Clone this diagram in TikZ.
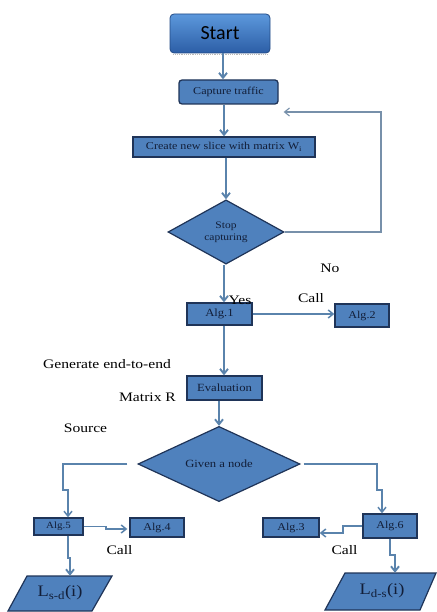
\documentclass[tikz,border=0pt]{standalone}
\usepackage{fontspec}
\setmainfont{Liberation Serif}
\newfontfamily\bx[FakeStretch=1.15]{Liberation Serif}
\newfontfamily\lb[FakeStretch=1.2]{Liberation Serif}
\newfontfamily\stf{Carlito}
\usetikzlibrary{shapes.geometric,arrows.meta,calc}
\definecolor{boxfill}{HTML}{4F81BD}
\definecolor{boxline}{HTML}{1F3458}
\definecolor{boxtext}{HTML}{121E38}
\definecolor{linec}{HTML}{5A83AC}
\definecolor{loopc}{HTML}{7790AA}
\definecolor{sttop}{HTML}{5C98DC}
\definecolor{stbot}{HTML}{2C5EA6}
\begin{document}
\begin{tikzpicture}[x=1pt,y=-1pt,
  box/.style={draw=boxline, fill=boxfill, line width=1.3pt, inner sep=0pt,
     text=boxtext, font=\bx\fontsize{10.5}{11}\selectfont},
  dia/.style={diamond, draw=boxline, fill=boxfill, line width=1.2pt, inner sep=0pt,
     text=boxtext, align=center},
  lab/.style={font=\lb\fontsize{13}{14}\selectfont, text=black, inner sep=0pt},
  arr/.style={draw=linec, line width=1.9pt, -{Straight Barb[length=5pt,width=8pt]}},
  arrthin/.style={draw=loopc, line width=1.1pt, -{Straight Barb[length=5pt,width=8pt]}},
  lbox/.style={inner sep=0pt, minimum width=1pt, text=boxtext}
]
\useasboundingbox (0,0) rectangle (436,612);

% nodes
\node[draw=stbot!80!black, line width=0.8pt, rounded corners=4pt, top color=sttop, bottom color=stbot,
      minimum width=100pt, minimum height=39pt, inner sep=0pt,
      font=\stf\fontsize{20}{22}\selectfont, text=black] (start) at (220,33.5) {Start};
\draw[gray!55, densely dotted, line width=1.2pt] (start.south west) ++(3,1.5) -- ([xshift=-3pt,yshift=-1.5pt]start.south east);

\node[box, rounded corners=3pt, minimum width=99pt, minimum height=24pt] (capture) at (228.5,92) {Capture traffic};
\node[box, minimum width=182pt, minimum height=20pt] (create) at (224,147) {Create new slice with matrix W\textsubscript{i}};
\node[dia, minimum width=116pt, minimum height=60pt, font=\bx\fontsize{10}{12}\selectfont] (stop) at (226,232) {Stop\\capturing};
\node[box, minimum width=65pt, minimum height=22pt, font=\bx\fontsize{11}{12}\selectfont] (alg1) at (219.5,314) {Alg.1};
\node[box, minimum width=54pt, minimum height=23pt, font=\bx\fontsize{10.5}{12}\selectfont] (alg2) at (362,315.5) {Alg.2};
\node[box, minimum width=75pt, minimum height=24pt, font=\bx\fontsize{11}{12}\selectfont] (eval) at (224.5,388) {Evaluation};
\node[dia, minimum width=162pt, minimum height=40pt, font=\bx\fontsize{11}{12}\selectfont] (given) at (219,464) {Given a node};
\node[box, minimum width=49pt, minimum height=17pt, font=\bx\fontsize{9.5}{10}\selectfont] (alg5) at (58.5,526.5) {Alg.5};
\node[box, minimum width=54pt, minimum height=19pt, font=\bx\fontsize{10.5}{11}\selectfont] (alg4) at (157,527.5) {Alg.4};
\node[box, minimum width=54pt, minimum height=24pt, font=\bx\fontsize{10.5}{11}\selectfont] (alg6) at (390,526) {Alg.6};
\node[box, minimum width=56pt, minimum height=19pt, font=\bx\fontsize{10.5}{11}\selectfont] (alg3) at (291,527.5) {Alg.3};

\filldraw[draw=boxline, fill=boxfill, line width=1.2pt] (27,576) -- (112,576) -- (92,611) -- (8,611) -- cycle;
\node[lbox, minimum height=34pt, font=\bx\fontsize{16}{18}\selectfont] (lsd) at (60,593) {L\textsubscript{s-d}(i)};
\filldraw[draw=boxline, fill=boxfill, line width=1.2pt] (345,573) -- (436,573) -- (420,610) -- (325,610) -- cycle;
\node[lbox, minimum height=36pt, font=\bx\fontsize{16}{18}\selectfont] (lds) at (382,591) {L\textsubscript{d-s}(i)};

% labels
\node[lab] (no) at (330,268) {No};
\node[lab] (yes) at (240,300) {Yes};
\node[lab] (call1) at (311,298) {Call};
\node[lab] (gen) at (107,364) {Generate end-to-end};
\node[lab] (matr) at (147.5,397) {Matrix R};
\node[lab] (src) at (85.5,428) {Source};
\node[lab] (call2) at (119.5,550) {Call};
\node[lab] (call3) at (344.5,550) {Call};

% connectors
\draw[arr] (start.south -| 223,0) -- (capture.north -| 223,0);
\draw[arr] (capture.south -| 224,0) -- (create.north -| 224,0);
\draw[arr] (create.south -| stop.north) -- (stop.north);
\draw[arrthin] (stop.east) -| (381,112) -- ([xshift=5pt]capture.east |- 0,112);
\draw[arr] (stop.south -| 224,0) -- (alg1.north -| 224,0);
\draw[arr, line width=1.5pt] (alg1.east) -- (alg1.east -| alg2.west);
\draw[arr] (alg1.south -| 224,0) -- (eval.north -| 224,0);
\draw[arr] (eval.south -| given.north) -- (given.north);
\draw[arr, line width=1.5pt] ([xshift=-10pt]given.west) -| (63,490) -| (alg5.north -| 68,0);
\draw[arr, line width=1.5pt] (alg5.east) -| (106,529) -- ([xshift=-2pt]alg4.west |- 0,529);
\draw[arr] (alg5.south -| 68,0) |- (70,558) -- (lsd.north -| 70,0);
\draw[arr, line width=1.5pt] ([xshift=3pt]given.east) -| (377,490) -| (alg6.north -| 382,0);
\draw[arr, line width=1.5pt] (alg6.west) -| (343,533) -- (alg3.east |- 0,533);
\draw[arr] (alg6.south) |- (395,555) -- (lds.north -| 395,0);
\end{tikzpicture}
\end{document}
